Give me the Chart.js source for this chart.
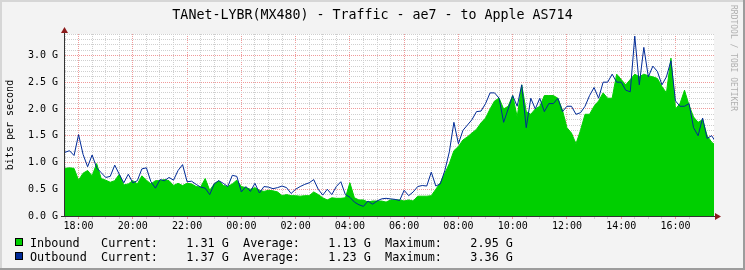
<!DOCTYPE html>
<html>
<head>
<meta charset="utf-8">
<title>TANet-LYBR(MX480) - Traffic - ae7 - to Apple AS714</title>
<script src="https://cdn.jsdelivr.net/npm/chart.js@4.4.1/dist/chart.umd.min.js"></script>
<style>
  html, body { margin: 0; padding: 0; background: #f3f3f3; }
  canvas { display: block; }
</style>
</head>
<body>
<canvas id="traffic-chart" width="745" height="270"></canvas>
<script>
// Graph title and time base (hours counted from 18:00, one sample every 10 min)
const TITLE = "TANet-LYBR(MX480) - Traffic - ae7 - to Apple AS714";
const START_HOUR = -0.5;
const STEP_HOURS = 1 / 6;
const END_HOUR = 23.42;

// Traffic in Gbit/s
const inbound = [
  0.89, 0.90, 0.89, 0.67, 0.80, 0.85, 0.75, 0.98, 0.70, 0.67,
  0.63, 0.66, 0.78, 0.58, 0.60, 0.66, 0.60, 0.75, 0.67, 0.60,
  0.66, 0.66, 0.68, 0.66, 0.57, 0.61, 0.57, 0.61, 0.60, 0.55,
  0.54, 0.70, 0.48, 0.60, 0.66, 0.57, 0.55, 0.60, 0.67, 0.55,
  0.53, 0.50, 0.53, 0.48, 0.46, 0.48, 0.47, 0.45, 0.38, 0.40,
  0.38, 0.38, 0.37, 0.38, 0.38, 0.45, 0.40, 0.34, 0.30, 0.34,
  0.33, 0.33, 0.34, 0.62, 0.34, 0.30, 0.30, 0.26, 0.28, 0.28,
  0.28, 0.26, 0.30, 0.30, 0.30, 0.28, 0.30, 0.28, 0.37, 0.37,
  0.37, 0.38, 0.50, 0.62, 0.80, 0.98, 1.22, 1.30, 1.42, 1.48,
  1.55, 1.62, 1.74, 1.83, 2.00, 2.15, 2.20, 2.00, 2.05, 2.25,
  1.85, 2.45, 1.95, 1.90, 2.00, 2.05, 2.25, 2.25, 2.25, 2.20,
  1.98, 1.65, 1.55, 1.35, 1.60, 1.90, 1.90, 2.05, 2.15, 2.30,
  2.20, 2.20, 2.65, 2.55, 2.45, 2.55, 2.65, 2.60, 2.65, 2.62,
  2.60, 2.57, 2.42, 2.30, 2.95, 2.00, 2.10, 2.35, 2.07, 1.85,
  1.75, 1.80, 1.50, 1.38, 1.31
];
const outbound = [
  1.19, 1.22, 1.13, 1.52, 1.15, 0.92, 1.14, 0.90, 0.81, 0.72,
  0.74, 0.95, 0.78, 0.62, 0.78, 0.62, 0.66, 0.88, 0.90, 0.64,
  0.52, 0.68, 0.66, 0.72, 0.67, 0.85, 0.96, 0.64, 0.65, 0.59,
  0.54, 0.52, 0.40, 0.60, 0.66, 0.61, 0.55, 0.76, 0.74, 0.45,
  0.55, 0.46, 0.61, 0.43, 0.55, 0.54, 0.51, 0.53, 0.56, 0.53,
  0.42, 0.50, 0.55, 0.59, 0.62, 0.68, 0.50, 0.39, 0.50, 0.40,
  0.55, 0.64, 0.40, 0.35, 0.26, 0.21, 0.18, 0.28, 0.22, 0.28,
  0.32, 0.33, 0.32, 0.31, 0.29, 0.48, 0.38, 0.45, 0.55, 0.57,
  0.56, 0.82, 0.56, 0.60, 0.85, 1.20, 1.75, 1.35, 1.60, 1.70,
  1.80, 1.95, 1.96, 2.10, 2.30, 2.30, 2.20, 1.75, 2.00, 2.25,
  2.05, 2.45, 1.65, 2.20, 2.00, 2.20, 1.95, 2.10, 2.10, 2.20,
  1.95, 2.05, 2.05, 1.90, 1.93, 2.05, 2.25, 2.40, 2.20, 2.50,
  2.50, 2.65, 2.50, 2.50, 2.35, 2.32, 3.36, 2.45, 3.15, 2.60,
  2.80, 2.70, 2.45, 2.60, 2.90, 2.15, 2.05, 2.05, 2.10, 1.65,
  1.50, 1.83, 1.45, 1.50, 1.37
];

// Axis labels
const xTickHours = [0, 2, 4, 6, 8, 10, 12, 14, 16, 18, 20, 22];
const xTickLabels = ["18:00", "20:00", "22:00", "00:00", "02:00", "04:00",
                     "06:00", "08:00", "10:00", "12:00", "14:00", "16:00"];
const yTickValues = [0, 0.5, 1.0, 1.5, 2.0, 2.5, 3.0];
const yTickLabels = ["0.0 G", "0.5 G", "1.0 G", "1.5 G", "2.0 G", "2.5 G", "3.0 G"];

// Legend
const seriesNames = ["Inbound", "Outbound"];
const seriesColors = ["#00CF00", "#002A97"];
const currentVals = ["1.31 G", "1.37 G"];
const averageVals = ["1.13 G", "1.23 G"];
const maximumVals = ["2.95 G", "3.36 G"];

const MONO = "'DejaVu Sans Mono', monospace";
const MAJOR_GRID = "#f09a9a";
const MINOR_GRID = "#cfcfcf";

function toPoints(values) {
  return values.map((v, i) => ({ x: START_HOUR + i * STEP_HOURS, y: v }));
}

function xGridColor(ctx) {
  const v = ctx.tick.value;
  if (Math.abs(v * 2 - Math.round(v * 2)) > 1e-6) return "transparent";
  if (Number.isInteger(Math.round(v * 1e6) / 1e6) && Math.round(v) % 2 === 0) return MAJOR_GRID;
  return MINOR_GRID;
}

function yGridColor(ctx) {
  const v = ctx.tick.value;
  const t = Math.round(v * 10);
  if (Math.abs(v * 10 - t) > 1e-6) return "transparent";
  return t % 5 === 0 ? MAJOR_GRID : MINOR_GRID;
}

// background, axes with arrows, title, legend and watermark
const rrdDecor = {
  id: "rrdDecor",
  beforeDraw(chart) {
    const { ctx, chartArea: a, width, height } = chart;
    ctx.save();
    ctx.fillStyle = "#f3f3f3";
    ctx.fillRect(0, 0, width, height);
    ctx.fillStyle = "#d6d6d6";
    ctx.fillRect(0, 0, width, 2);
    ctx.fillRect(0, 0, 2, height);
    ctx.fillStyle = "#9c9c9c";
    ctx.fillRect(width - 2, 0, 2, height);
    ctx.fillRect(0, height - 2, width, 2);
    ctx.fillStyle = "#ffffff";
    ctx.fillRect(a.left, a.top, a.right - a.left, a.bottom - a.top);
    ctx.restore();
  },
  afterDraw(chart) {
    const { ctx, chartArea: a, width } = chart;
    ctx.save();

    // axes
    ctx.strokeStyle = "#333";
    ctx.lineWidth = 1;
    ctx.beginPath();
    ctx.moveTo(a.left - 0.5, a.bottom + 0.5);
    ctx.lineTo(a.left - 0.5, a.top - 4);
    ctx.moveTo(a.left - 4, a.bottom + 0.5);
    ctx.lineTo(a.right + 3, a.bottom + 0.5);
    ctx.stroke();

    // arrows
    ctx.fillStyle = "#8c1c1c";
    ctx.beginPath();
    ctx.moveTo(a.left - 4, a.top - 1);
    ctx.lineTo(a.left + 3, a.top - 1);
    ctx.lineTo(a.left - 0.5, a.top - 7);
    ctx.closePath();
    ctx.fill();
    ctx.beginPath();
    ctx.moveTo(a.right + 1, a.bottom - 3);
    ctx.lineTo(a.right + 1, a.bottom + 4);
    ctx.lineTo(a.right + 7, a.bottom + 0.5);
    ctx.closePath();
    ctx.fill();

    // title
    ctx.fillStyle = "#000";
    ctx.font = "13.3px " + MONO;
    ctx.textAlign = "center";
    ctx.textBaseline = "alphabetic";
    ctx.fillText(TITLE, width / 2, 19);

    // legend rows
    ctx.font = "11.8px " + MONO;
    ctx.textAlign = "left";
    seriesNames.forEach((name, i) => {
      const y = 247 + i * 14;
      ctx.fillStyle = seriesColors[i];
      ctx.fillRect(15, y - 9, 8, 8);
      ctx.strokeStyle = "#000";
      ctx.strokeRect(15.5, y - 8.5, 7, 7);
      const row = name.padEnd(10) + "Current:" + currentVals[i].padStart(10) +
        "  Average:" + averageVals[i].padStart(10) +
        "  Maximum:" + maximumVals[i].padStart(10);
      ctx.fillStyle = "#000";
      ctx.fillText(row, 30, y);
    });

    // watermark
    ctx.translate(733, 5);
    ctx.rotate(Math.PI / 2);
    ctx.font = "8px " + MONO;
    ctx.fillStyle = "#b0b0b0";
    ctx.textBaseline = "middle";
    ctx.fillText("RRDTOOL / TOBI OETIKER", 0, 0);
    ctx.restore();
  }
};

const ctx = document.getElementById("traffic-chart").getContext("2d");

new Chart(ctx, {
  type: "line",
  data: {
    datasets: [
      {
        label: seriesNames[1],
        data: toPoints(outbound),
        borderColor: seriesColors[1],
        borderWidth: 1,
        pointRadius: 0,
        fill: false,
        tension: 0,
        order: 0
      },
      {
        label: seriesNames[0],
        data: toPoints(inbound),
        borderColor: seriesColors[0],
        backgroundColor: seriesColors[0],
        borderWidth: 1,
        pointRadius: 0,
        fill: "origin",
        tension: 0,
        order: 1
      }
    ]
  },
  options: {
    responsive: false,
    animation: false,
    devicePixelRatio: 1,
    layout: { padding: { top: 34, right: 31, left: 0, bottom: 0 } },
    plugins: {
      legend: { display: false },
      tooltip: { enabled: false },
      title: { display: false }
    },
    scales: {
      x: {
        type: "linear",
        min: START_HOUR,
        max: END_HOUR,
        afterFit: scale => { scale.height = 54; },
        border: { display: false, dash: [1, 1] },
        grid: {
          color: xGridColor,
          tickColor: xGridColor,
          tickLength: 3,
          drawTicks: true
        },
        ticks: {
          stepSize: 0.5,
          autoSkip: false,
          maxRotation: 0,
          padding: 1,
          color: "#000",
          font: { family: MONO, size: 10 },
          callback: value => {
            const idx = xTickHours.findIndex(h => Math.abs(h - value) < 1e-6);
            return idx >= 0 ? xTickLabels[idx] : "";
          }
        }
      },
      y: {
        min: 0,
        max: 3.4,
        afterFit: scale => { scale.width = 65; },
        border: { display: false, dash: [1, 1] },
        grid: {
          color: yGridColor,
          tickColor: "transparent",
          tickLength: 4
        },
        title: {
          display: true,
          text: "bits per second",
          color: "#000",
          font: { family: MONO, size: 10 },
          padding: { top: 4, bottom: 0 }
        },
        ticks: {
          stepSize: 0.1,
          autoSkip: false,
          padding: 3,
          color: "#000",
          font: { family: MONO, size: 10 },
          callback: value => {
            const idx = yTickValues.findIndex(v => Math.abs(v - value) < 1e-6);
            return idx >= 0 ? yTickLabels[idx] : "";
          }
        }
      }
    }
  },
  plugins: [rrdDecor]
});
</script>
</body>
</html>
